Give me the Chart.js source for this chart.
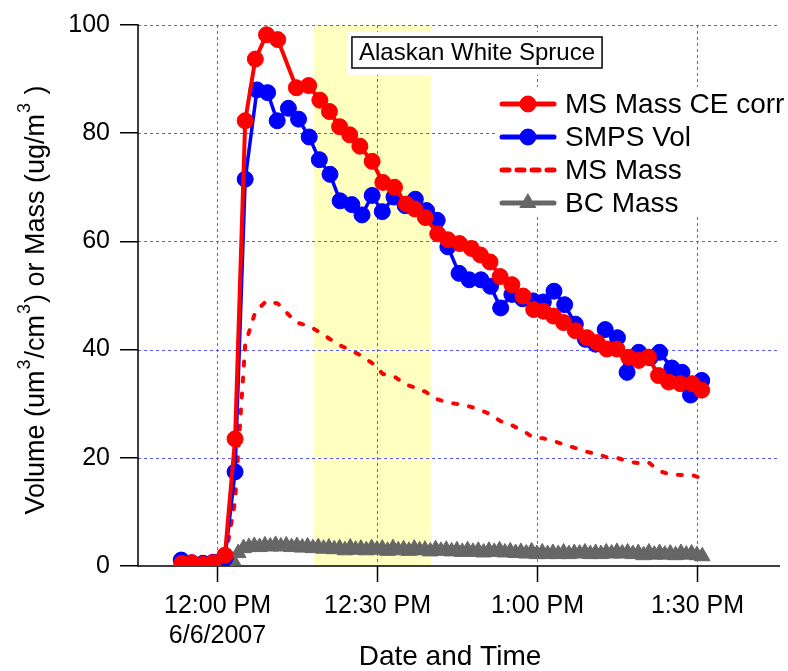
<!DOCTYPE html>
<html>
<head>
<meta charset="utf-8">
<script src="https://cdn.jsdelivr.net/npm/chart.js@4.4.0/dist/chart.umd.min.js"></script>
<style>
  html, body { margin: 0; padding: 0; background: #fff; }
  canvas { display: block; }
</style>
</head>
<body>
<canvas id="smoke-chart" width="788" height="671"></canvas>
<script>
// all times are minutes after 12:00 PM, 6/6/2007
const ceTimes = [-6.6, -4.7, -2.6, -0.7, 1.5, 3.4, 5.3, 7.2, 9.3, 11.4, 14.9, 17.2, 19.3, 21.1, 23.0,
  24.9, 26.8, 29.1, 31.1, 33.3, 35.5, 37.1, 39.1, 41.4, 43.3, 45.5, 47.7, 49.4, 51.2, 53.1, 55.3,
  57.4, 59.4, 61.2, 63.1, 65.0, 67.2, 69.4, 71.3, 73.1, 75.0, 77.2, 79.1, 80.9, 82.8, 84.7, 86.9,
  89.1, 90.9];
const ceMass = [0.5, 0.6, 0.3, 0.6, 2.0, 23.5, 82.3, 93.7, 98.2, 97.3, 88.4, 88.8, 86.1, 84.0, 81.2,
  79.7, 77.6, 74.8, 70.9, 70.0, 66.9, 66.0, 64.4, 61.4, 60.3, 59.6, 58.7, 57.5, 56.2, 53.5, 52.0,
  49.9, 47.4, 47.1, 46.2, 45.0, 43.5, 42.2, 41.3, 40.1, 40.1, 38.6, 38.0, 38.6, 35.2, 34.0, 33.7,
  33.7, 32.5];
const msMass = [0.3, 0.3, 0.2, 0.3, 1.0, 12.0, 41.0, 47.0, 49.0, 48.5, 45.0, 44.4, 43.2, 42.0, 40.8,
  40.0, 39.0, 37.5, 35.5, 35.0, 33.5, 33.0, 32.2, 30.8, 30.2, 29.9, 29.4, 28.8, 28.1, 26.8, 26.0,
  25.0, 23.7, 23.6, 23.1, 22.5, 21.8, 21.1, 20.7, 20.1, 20.0, 19.3, 19.0, 19.2, 17.6, 17.0, 16.8,
  16.8, 16.2];

const smpsTimes = [-6.7, -4.7, -2.6, -0.7, 1.5, 3.4, 5.3, 7.5, 9.5, 11.3, 13.4, 15.3, 17.3, 19.2, 21.2,
  23.1, 25.3, 27.2, 29.1, 31.0, 33.2, 35.3, 37.2, 39.3, 41.3, 43.3, 45.4, 47.3, 49.5, 51.3, 53.2,
  55.3, 57.3, 59.3, 61.2, 63.2, 65.2, 67.2, 69.1, 71.0, 72.8, 75.1, 76.9, 79.1, 81.2, 83.0, 85.3,
  87.2, 88.8, 90.9];
const smpsVol = [1.1, 0.6, 0.5, 0.7, 1.4, 17.4, 71.5, 88.0, 87.5, 82.3, 84.6, 82.6, 79.3, 75.1, 72.4,
  67.5, 66.8, 64.9, 68.5, 65.5, 68.2, 66.6, 67.8, 65.7, 63.9, 59.0, 54.1, 52.9, 52.9, 51.7, 47.7,
  50.2, 49.4, 49.0, 48.8, 50.8, 48.3, 44.7, 41.9, 41.0, 43.7, 42.2, 35.8, 39.5, 38.5, 39.5, 36.6,
  35.8, 31.6, 34.3];

const bcTimes = [0, 1, 2, 3, 4, 5, 6, 7, 8, 9, 10, 11, 12, 13, 14, 15, 16, 17, 18, 19, 20, 21, 22, 23,
  24, 25, 26, 27, 28, 29, 30, 31, 32, 33, 34, 35, 36, 37, 38, 39, 40, 41, 42, 43, 44, 45, 46, 47,
  48, 49, 50, 51, 52, 53, 54, 55, 56, 57, 58, 59, 60, 61, 62, 63, 64, 65, 66, 67, 68, 69, 70, 71,
  72, 73, 74, 75, 76, 77, 78, 79, 80, 81, 82, 83, 84, 85, 86, 87, 88, 89, 90, 91];
const bcMass = [0.5, 0.5, 0.6, 1.0, 2.4, 3.3, 3.5, 3.7, 3.5, 3.8, 3.6, 3.9, 3.6, 3.8, 3.5, 3.7, 3.4,
  3.6, 3.3, 3.5, 3.2, 3.4, 3.1, 3.3, 2.9, 3.4, 3.0, 3.2, 2.9, 3.3, 3.0, 3.2, 2.8, 3.3, 2.9, 3.1,
  2.8, 3.2, 2.9, 3.0, 2.7, 3.1, 2.8, 3.0, 2.7, 2.9, 2.6, 2.9, 2.6, 2.8, 2.5, 2.8, 2.6, 2.9, 2.5,
  2.7, 2.4, 2.6, 2.3, 2.7, 2.2, 2.5, 2.2, 2.4, 2.2, 2.5, 2.2, 2.4, 2.3, 2.5, 2.2, 2.4, 2.2, 2.5,
  2.3, 2.6, 2.3, 2.5, 2.2, 2.4, 2.0, 2.5, 2.1, 2.4, 2.1, 2.3, 2.0, 2.4, 2.1, 2.3, 2.0, 1.8];

const timeTicks = [0, 30, 60, 90];
const timeLabels = [["12:00 PM", "6/6/2007"], "12:30 PM", "1:00 PM", "1:30 PM"];
const valueTicks = [20, 40, 60, 80, 100];
const shadeRange = [18.2, 40.1];
const sampleName = "Alaskan White Spruce";

const FONT = '"Liberation Sans", Arial, sans-serif';
const GRID_BLUE = "#5a5aff";

function pairs(xs, ys) {
  return xs.map((x, i) => ({ x: x, y: ys[i] }));
}

// shaded sampling window, painted under the grid
const shadePlugin = {
  id: "shade",
  beforeDraw: function (chart) {
    const ctx = chart.ctx, area = chart.chartArea, xs = chart.scales.x;
    const x0 = xs.getPixelForValue(shadeRange[0]);
    const x1 = xs.getPixelForValue(shadeRange[1]);
    ctx.save();
    ctx.fillStyle = "#fff";
    ctx.fillRect(0, 0, chart.width, chart.height);
    ctx.fillStyle = "#ffffc0";
    ctx.fillRect(x0, area.top, x1 - x0, area.bottom - area.top);
    ctx.restore();
  }
};

// dotted grid, time tick marks and labels, solid axis lines; all under the markers
const axisPlugin = {
  id: "axes",
  beforeDatasetsDraw: function (chart) {
    const ctx = chart.ctx, a = chart.chartArea, xs = chart.scales.x, ys = chart.scales.y;
    ctx.save();
    ctx.lineWidth = 1;
    ctx.strokeStyle = GRID_BLUE;
    ctx.setLineDash([3, 3]);
    ctx.beginPath();
    timeTicks.forEach(function (t) {
      const x = Math.round(xs.getPixelForValue(t)) + 0.5;
      ctx.moveTo(x, a.top);
      ctx.lineTo(x, a.bottom);
    });
    valueTicks.forEach(function (v) {
      const y = Math.round(ys.getPixelForValue(v)) + 0.5;
      ctx.moveTo(a.left, y);
      ctx.lineTo(a.right, y);
    });
    ctx.stroke();
    ctx.setLineDash([]);

    ctx.strokeStyle = "#000";
    ctx.lineWidth = 1.5;
    ctx.fillStyle = "#000";
    ctx.font = "25px " + FONT;
    ctx.textAlign = "center";
    ctx.textBaseline = "top";
    timeTicks.forEach(function (t, i) {
      const x = Math.round(xs.getPixelForValue(t)) + 0.5;
      ctx.beginPath();
      ctx.moveTo(x, a.bottom);
      ctx.lineTo(x, a.bottom + 16);
      ctx.stroke();
      [].concat(timeLabels[i]).forEach(function (line, k) {
        ctx.fillText(line, x, a.bottom + 28 + k * 30);
      });
    });
    ctx.beginPath();
    ctx.moveTo(a.left, a.top - 1);
    ctx.lineTo(a.left, a.bottom);
    ctx.lineTo(a.right + 2, a.bottom);
    ctx.stroke();
    ctx.restore();
  }
};

// rotated value-axis title with raised exponents
function drawValueTitle(ctx) {
  const parts = [["Volume (um", 0], ["3", 1], ["/cm", 0], ["3", 1], [") or Mass (ug/m", 0], ["3", 1], [" )", 0]];
  const big = "27px " + FONT, small = "18px " + FONT;
  let len = 0;
  parts.forEach(function (p) {
    ctx.font = p[1] ? small : big;
    len += ctx.measureText(p[0]).width + (p[1] ? 2 : 0);
  });
  ctx.save();
  ctx.translate(44, 300);
  ctx.rotate(-Math.PI / 2);
  ctx.fillStyle = "#000";
  ctx.textBaseline = "alphabetic";
  ctx.textAlign = "left";
  let x = -len / 2;
  parts.forEach(function (p) {
    ctx.font = p[1] ? small : big;
    if (p[1]) x += 1;
    ctx.fillText(p[0], x, p[1] ? -14 : 0);
    x += ctx.measureText(p[0]).width + (p[1] ? 1 : 0);
  });
  ctx.restore();
}

// sample label box, axis titles and the line+marker key
const keyPlugin = {
  id: "key",
  afterDraw: function (chart) {
    const ctx = chart.ctx;
    ctx.save();

    ctx.font = "24px " + FONT;
    const tw = ctx.measureText(sampleName).width;
    const cx = 477, cy = 52;
    ctx.fillStyle = "#fff";
    ctx.fillRect(cx - tw / 2 - 12, cy - 20, tw + 24, 43);
    ctx.strokeStyle = "#000";
    ctx.lineWidth = 1.5;
    ctx.strokeRect(cx - tw / 2 - 7, cy - 15, tw + 14, 31);
    ctx.fillStyle = "#000";
    ctx.textAlign = "center";
    ctx.textBaseline = "middle";
    ctx.fillText(sampleName, cx, cy + 1);

    ctx.font = "28px " + FONT;
    ctx.fillText("Date and Time", 450, 657);
    drawValueTitle(ctx);

    ctx.fillStyle = "#fff";
    ctx.fillRect(497, 87, 291, 130);
    ctx.textAlign = "left";
    ctx.textBaseline = "middle";
    ctx.font = "28px " + FONT;
    chart.data.datasets.forEach(function (ds, i) {
      const y = 104 + i * 33;
      ctx.strokeStyle = ds.borderColor;
      ctx.lineWidth = ds.keyWidth;
      ctx.lineCap = "round";
      ctx.setLineDash(ds.keyDash || []);
      ctx.beginPath();
      ctx.moveTo(502, y);
      ctx.lineTo(554, y);
      ctx.stroke();
      ctx.setLineDash([]);
      if (ds.pointRadius > 0) {
        ctx.fillStyle = ds.pointBackgroundColor;
        ctx.strokeStyle = ds.pointBorderColor;
        ctx.lineWidth = 1;
        Chart.helpers.drawPoint(ctx, { pointStyle: ds.pointStyle, radius: ds.pointRadius, rotation: 0, borderWidth: 1 }, 528, y);
      }
      ctx.fillStyle = "#000";
      ctx.fillText(ds.label, 565, y + 1);
    });
    ctx.restore();
  }
};

new Chart(document.getElementById("smoke-chart"), {
  type: "line",
  data: {
    datasets: [
      { label: "MS Mass CE corr", data: pairs(ceTimes, ceMass), borderColor: "#ff0000", borderWidth: 4,
        pointStyle: "circle", pointRadius: 8, pointBackgroundColor: "#ff0000", pointBorderColor: "#ff0000",
        pointBorderWidth: 1, keyWidth: 5 },
      { label: "SMPS Vol", data: pairs(smpsTimes, smpsVol), borderColor: "#0000ff", borderWidth: 3.5,
        pointStyle: "circle", pointRadius: 8, pointBackgroundColor: "#0000ff", pointBorderColor: "#0000ff",
        pointBorderWidth: 1, keyWidth: 5 },
      { label: "MS Mass", data: pairs(ceTimes, msMass), borderColor: "#ff0000", borderWidth: 4,
        borderDash: [4, 12], borderCapStyle: "round", pointRadius: 0, keyWidth: 5, keyDash: [7, 8] },
      { label: "BC Mass", data: pairs(bcTimes, bcMass), borderColor: "#666666", borderWidth: 3,
        pointStyle: "triangle", pointRadius: 9, pointBackgroundColor: "#666666", pointBorderColor: "#666666",
        pointBorderWidth: 1, keyWidth: 5 }
    ]
  },
  options: {
    responsive: false,
    animation: false,
    layout: { padding: { top: 19, right: 10, left: 0, bottom: 0 } },
    plugins: { legend: { display: false }, tooltip: { enabled: false } },
    scales: {
      x: {
        type: "linear",
        min: -14.8,
        max: 105.2,
        afterFit: function (scale) { scale.height = 105; },
        grid: { display: false },
        border: { display: false },
        ticks: { display: false }
      },
      y: {
        min: 0,
        max: 100,
        afterFit: function (scale) { scale.width = 138; },
        grid: { drawOnChartArea: false, color: "#000", lineWidth: 1.5, tickLength: 18 },
        border: { display: false },
        ticks: { color: "#000", font: { family: FONT, size: 25 }, padding: 10, stepSize: 20 }
      }
    }
  },
  plugins: [shadePlugin, axisPlugin, keyPlugin]
});
</script>
</body>
</html>
